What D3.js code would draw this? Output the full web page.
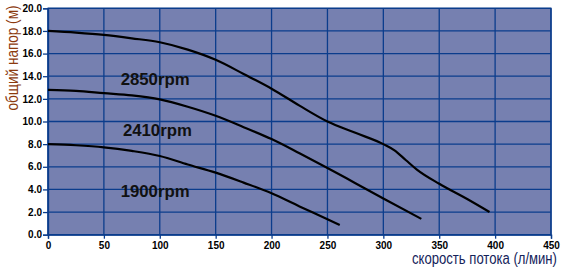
<!DOCTYPE html>
<html><head><meta charset="utf-8">
<script src="https://cdn.jsdelivr.net/npm/d3@7"></script>
<style>body{margin:0;background:#fff}svg{display:block}</style>
</head><body>
<svg id="c" width="567" height="278"></svg>
<script>
const xTicks = [0,50,100,150,200,250,300,350,400,450];
const yTicks = [0,2,4,6,8,10,12,14,16,18,20];
const rpm2850 = [[0,18.0],[25,17.85],[50,17.65],[75,17.35],[100,17.0],[125,16.35],[150,15.45],[175,14.2],[200,12.9],[225,11.4],[250,10.0],[275,9.0],[300,8.0],[310,7.45],[320,6.6],[330,5.75],[350,4.5],[375,3.15],[395,2.0]];
const rpm2410 = [[0,12.8],[25,12.7],[50,12.5],[75,12.3],[100,11.95],[125,11.3],[150,10.5],[175,9.5],[200,8.45],[225,7.2],[250,5.9],[275,4.55],[300,3.2],[334,1.4]];
const rpm1900 = [[0,8.0],[25,7.9],[50,7.72],[75,7.4],[100,6.95],[125,6.2],[150,5.48],[175,4.6],[200,3.66],[225,2.5],[250,1.36],[261,0.85]];
const seriesLabels = [{t:"2850rpm",x:65,y:13.25},{t:"2410rpm",x:67,y:8.75},{t:"1900rpm",x:65,y:3.35}];

const svg = d3.select("#c");
const L=48, R=551, T=8.3, B=234.7;
const x = d3.scaleLinear().domain([0,450]).range([L,R]);
const y = d3.scaleLinear().domain([0,20]).range([B,T]);
const grid = "#0b3c8c";
const FF = "Liberation Sans, Arial, sans-serif";

svg.append("rect").attr("x",L).attr("y",T).attr("width",R-L).attr("height",B-T).attr("fill","#7680b0");

const g = svg.append("g");
g.selectAll(".vg").data(xTicks).join("line")
  .attr("x1",d=>x(d)).attr("x2",d=>x(d)).attr("y1",T).attr("y2",B)
  .attr("stroke",grid).attr("stroke-width",1.3);
g.selectAll(".hg").data(yTicks).join("line")
  .attr("x1",L).attr("x2",R).attr("y1",d=>y(d)).attr("y2",d=>y(d))
  .attr("stroke",grid).attr("stroke-width",1.3);

const xa = svg.append("g").attr("transform",`translate(0,${B})`)
  .call(d3.axisBottom(x).tickValues(xTicks).tickSize(4).tickPadding(3).tickFormat(d3.format("d")));
const ya = svg.append("g").attr("transform",`translate(${L},0)`)
  .call(d3.axisLeft(y).tickValues(yTicks).tickSize(5).tickPadding(1).tickFormat(d3.format(".1f")));
[xa,ya].forEach(a=>{
  a.select(".domain").attr("stroke",grid).attr("stroke-width",1.3);
  a.selectAll(".tick line").attr("stroke",grid).attr("stroke-width",1.3);
  a.selectAll("text").attr("font-family",FF)
    .attr("font-weight","bold").attr("font-size",10).attr("fill","#000");
});
svg.append("rect").attr("x",L).attr("y",T).attr("width",R-L).attr("height",B-T)
  .attr("fill","none").attr("stroke",grid).attr("stroke-width",1.3);

const line = d3.line().x(d=>x(d[0])).y(d=>y(d[1])).curve(d3.curveMonotoneX);
[rpm2850,rpm2410,rpm1900].forEach(s=>{
  svg.append("path").attr("d",line(s)).attr("fill","none")
    .attr("stroke","#000").attr("stroke-width",2.2);
});

svg.selectAll(".lbl").data(seriesLabels).join("text")
  .attr("x",d=>x(d.x)).attr("y",d=>y(d.y))
  .attr("font-family",FF).attr("font-weight","bold")
  .attr("font-size",16.5).attr("fill","#111")
  .attr("textLength",69).attr("lengthAdjust","spacingAndGlyphs")
  .text(d=>d.t);

function squeezed(parent, txt, size, fill, width){
  const gg = parent.append("g");
  const t = gg.append("text").attr("font-family",FF).attr("font-size",size)
    .attr("fill",fill).attr("text-anchor","middle").text(txt);
  const w = t.node().getComputedTextLength();
  t.attr("transform",`scale(${width/w},1)`);
  return gg;
}
squeezed(svg,"скорость потока (л/мин)",16,"#14235a",145)
  .attr("transform","translate(484.5,263.5)");
squeezed(svg,"общий напор (м)",16,"#8b3a0e",105)
  .attr("transform","translate(18,58) rotate(-90)");
</script>
</body></html>
